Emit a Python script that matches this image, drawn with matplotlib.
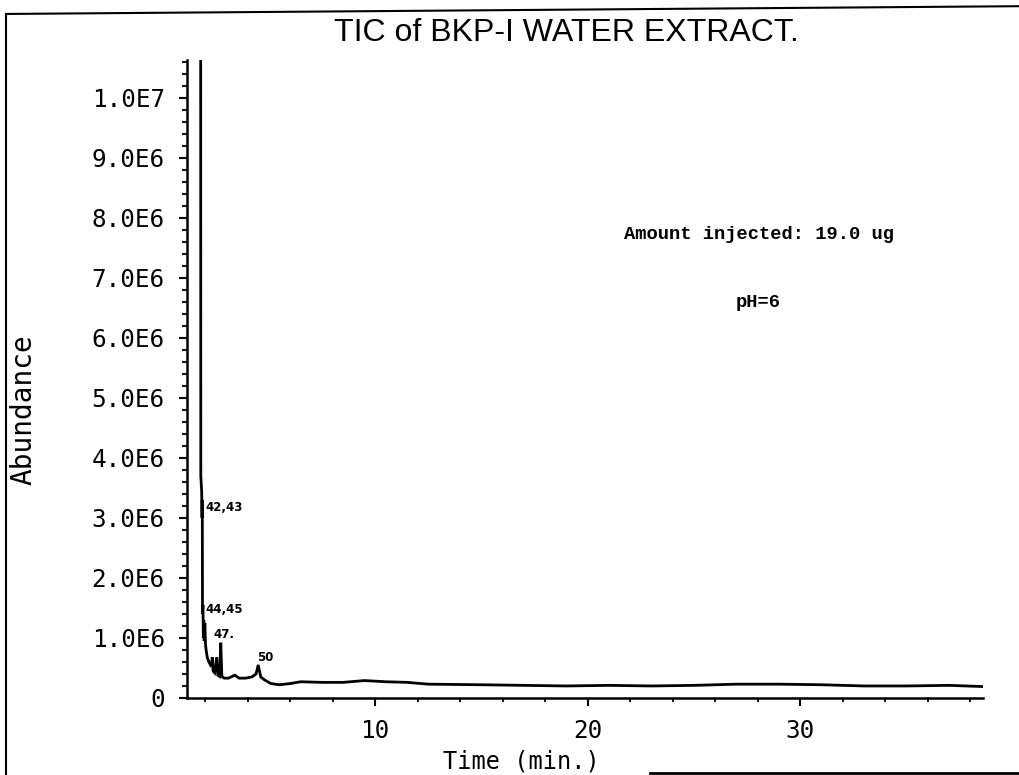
import matplotlib
matplotlib.use("Agg")
import matplotlib.pyplot as plt
from matplotlib.lines import Line2D
from matplotlib.ticker import MultipleLocator, FixedLocator

# Chromatogram readings (time in min, abundance)
times = [1.79, 1.80, 1.84, 1.86, 1.87, 1.88, 1.90, 1.92, 1.94, 1.96, 1.99, 2.02,
         2.05, 2.10, 2.18, 2.30, 2.34, 2.38, 2.45, 2.55, 2.60, 2.68, 2.74, 2.79,
         2.90, 3.10, 3.40, 3.60, 3.90, 4.20, 4.40, 4.50, 4.62, 4.80, 5.10, 5.50,
         6.00, 6.50, 7.50, 8.50, 9.50, 10.5, 11.5, 12.5, 15.0, 17.0, 19.0, 21.0,
         23.0, 25.0, 27.0, 29.0, 31.0, 33.0, 35.0, 37.0, 38.6]
abundance = [1.5e7, 3.7e6, 3.45e6, 3.0e6, 3.3e6, 1.4e6, 1.55e6, 1.0e6, 1.3e6,
             0.95e6, 1.25e6, 0.9e6, 0.8e6, 0.68e6, 0.6e6, 0.52e6, 0.68e6, 0.45e6,
             0.42e6, 0.68e6, 0.38e6, 0.36e6, 0.92e6, 0.36e6, 0.33e6, 0.33e6,
             0.38e6, 0.33e6, 0.33e6, 0.35e6, 0.40e6, 0.55e6, 0.35e6, 0.30e6,
             0.24e6, 0.22e6, 0.24e6, 0.27e6, 0.26e6, 0.26e6, 0.29e6, 0.27e6,
             0.26e6, 0.23e6, 0.22e6, 0.21e6, 0.20e6, 0.21e6, 0.20e6, 0.21e6,
             0.23e6, 0.23e6, 0.22e6, 0.20e6, 0.20e6, 0.21e6, 0.19e6]

# Peak labels
peak_labels = ["42,43", "44,45", "47.", "50"]
peak_t = [2.0, 2.0, 2.38, 4.45]
peak_y = [3.17e6, 1.48e6, 1.05e6, 0.67e6]

ytick_vals = [0, 1e6, 2e6, 3e6, 4e6, 5e6, 6e6, 7e6, 8e6, 9e6, 1e7]
ytick_labels = ["0", "1.0E6", "2.0E6", "3.0E6", "4.0E6", "5.0E6", "6.0E6",
                "7.0E6", "8.0E6", "9.0E6", "1.0E7"]
xtick_vals = [10, 20, 30]
xtick_labels = ["10", "20", "30"]

mono = "DejaVu Sans Mono"

fig = plt.figure(figsize=(10.19, 7.75), dpi=100)
ax = fig.add_axes([0.1835, 0.0994, 0.7812, 0.8232])

ax.plot(times, abundance, color="black", lw=2.0, solid_joinstyle="miter")

ax.set_xlim(1.15, 38.6)
ax.set_ylim(0, 1.063e7)

for s in ["top", "right"]:
    ax.spines[s].set_visible(False)
for s in ["left", "bottom"]:
    ax.spines[s].set_linewidth(1.8)

ax.xaxis.set_major_locator(FixedLocator(xtick_vals))
ax.set_xticklabels(xtick_labels, fontfamily=mono, fontsize=17.5)
ax.xaxis.set_minor_locator(MultipleLocator(2))
ax.yaxis.set_major_locator(FixedLocator(ytick_vals))
ax.set_yticklabels(ytick_labels, fontfamily=mono, fontsize=17.5)
ax.yaxis.set_minor_locator(MultipleLocator(2e5))

ax.tick_params(axis="x", which="major", direction="out", length=6, width=1.5, pad=9)
ax.tick_params(axis="x", which="minor", direction="out", length=3, width=1.3)
ax.tick_params(axis="y", which="major", direction="out", length=6, width=1.5, pad=10)
ax.tick_params(axis="y", which="minor", direction="out", length=3.5, width=1.3)

for lab, t, y in zip(peak_labels, peak_t, peak_y):
    ax.text(t, y, lab, fontsize=8.5, fontweight="bold", ha="left", va="center")

fig.text(0.556, 0.957, "TIC of BKP-I WATER EXTRACT.", fontsize=23,
         family="Liberation Sans", ha="center", va="center")
fig.text(0.745, 0.697, "Amount injected: 19.0 ug", fontsize=13.5,
         family="Liberation Mono", fontweight="bold", ha="center", va="center")
fig.text(0.744, 0.61, "pH=6", fontsize=13.5,
         family="Liberation Mono", fontweight="bold", ha="center", va="center")
fig.text(0.512, 0.018, "Time (min.)", fontsize=17, family=mono,
         ha="center", va="center")
fig.text(0.023, 0.472, "Abundance", fontsize=20, family=mono,
         rotation=90, ha="center", va="center")

# scanned page border
fig.add_artist(Line2D([0.006, 0.006], [0.0, 0.982], transform=fig.transFigure,
                      color="black", lw=1.5))
fig.add_artist(Line2D([0.006, 1.0], [0.982, 0.992], transform=fig.transFigure,
                      color="black", lw=1.5))
fig.add_artist(Line2D([0.638, 1.0], [0.003, 0.003], transform=fig.transFigure,
                      color="black", lw=2.0))

plt.savefig("out.png", dpi=100)
